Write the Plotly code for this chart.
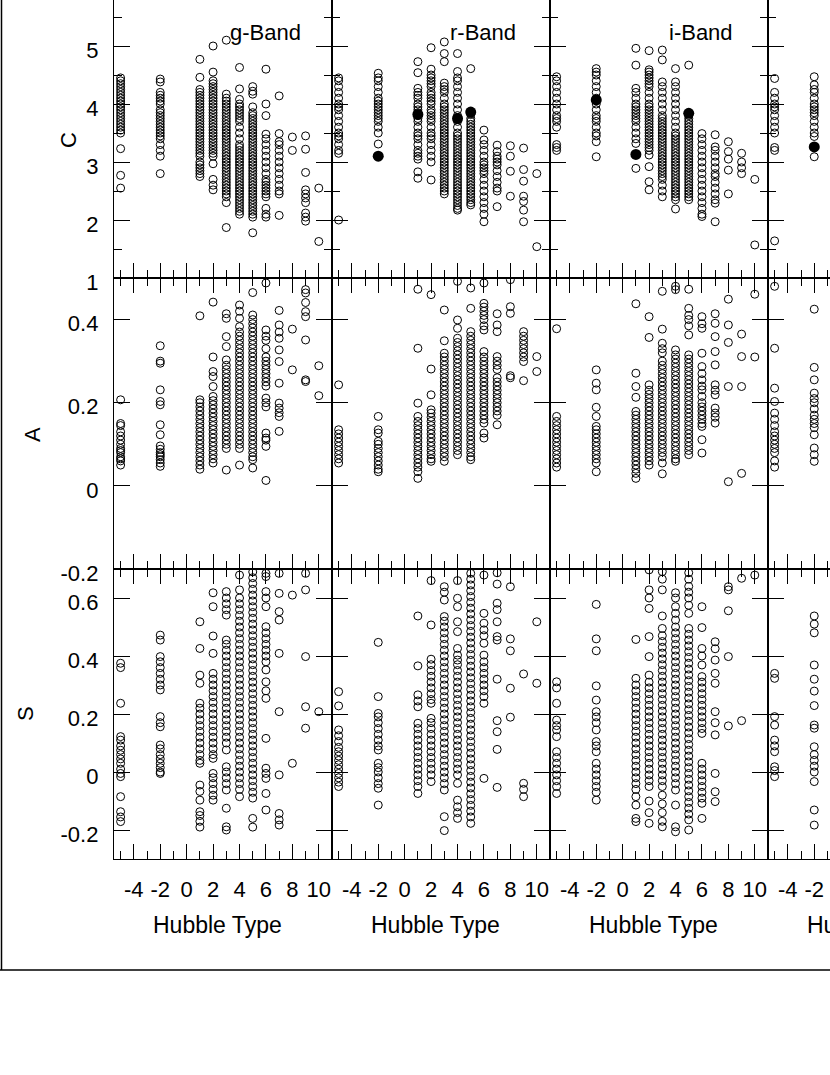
import plotly.graph_objects as go

# Hubble types present in the sample (E=-5, S0=-2, spirals 1..10)
types = [-5, -2, 1, 2, 3, 4, 5, 6, 7, 8, 9, 10]
types_z = [-5, -2]   # only these are visible in the clipped 4th column

band_names = ['g-Band', 'r-Band', 'i-Band']

# ---- concentration C, one list per Hubble type ----
g_C = [
    [4.45, 4.4, 4.35, 4.3, 4.25, 4.2, 4.15, 4.1, 4.05, 4.0, 3.95, 3.9, 3.85, 3.8, 3.75, 3.7, 3.65, 3.6, 3.55, 3.5, 3.23, 2.77, 2.55],
    [4.43, 4.38, 4.2, 4.15, 4.1, 4.05, 4.0, 3.9, 3.85, 3.8, 3.75, 3.7, 3.65, 3.6, 3.55, 3.5, 3.45, 3.4, 3.3, 3.2, 3.1, 2.8],
    [4.77, 4.46, 4.25, 4.2, 4.15, 4.1, 4.05, 4.0, 3.95, 3.9, 3.85, 3.8, 3.75, 3.7, 3.65, 3.6, 3.55, 3.5, 3.45, 3.4, 3.35, 3.3, 3.25, 3.2, 3.15, 3.1, 3.0, 2.95, 2.9, 2.85, 2.8, 2.75],
    [5.0, 4.55, 4.4, 4.35, 4.3, 4.25, 4.2, 4.15, 4.1, 4.05, 4.0, 3.95, 3.9, 3.85, 3.8, 3.75, 3.7, 3.65, 3.6, 3.55, 3.5, 3.45, 3.4, 3.35, 3.3, 3.25, 3.2, 3.15, 3.1, 2.97, 2.7, 2.6, 2.52],
    [5.1, 4.17, 4.1, 4.05, 4.0, 3.95, 3.9, 3.85, 3.8, 3.75, 3.7, 3.65, 3.6, 3.55, 3.5, 3.45, 3.4, 3.35, 3.3, 3.25, 3.2, 3.15, 3.1, 3.05, 3.0, 2.95, 2.9, 2.85, 2.8, 2.75, 2.7, 2.65, 2.6, 2.55, 2.5, 2.45, 2.4, 2.3, 1.87],
    [4.63, 4.26, 4.08, 4.0, 3.95, 3.9, 3.85, 3.8, 3.75, 3.7, 3.6, 3.5, 3.4, 3.3, 3.25, 3.2, 3.15, 3.1, 3.05, 3.0, 2.95, 2.9, 2.85, 2.8, 2.75, 2.7, 2.65, 2.6, 2.55, 2.5, 2.45, 2.4, 2.35, 2.3, 2.25, 2.2, 2.15, 2.1],
    [4.3, 4.22, 4.17, 3.95, 3.85, 3.8, 3.75, 3.7, 3.65, 3.6, 3.55, 3.5, 3.45, 3.4, 3.35, 3.3, 3.25, 3.2, 3.15, 3.1, 3.05, 3.0, 2.95, 2.9, 2.85, 2.8, 2.75, 2.7, 2.65, 2.6, 2.55, 2.5, 2.45, 2.4, 2.35, 2.3, 2.25, 2.2, 2.15, 2.1, 2.05, 1.78],
    [4.6, 4.0, 3.8, 3.48, 3.4, 3.3, 3.2, 3.1, 3.0, 2.9, 2.8, 2.7, 2.65, 2.6, 2.55, 2.5, 2.45, 2.4, 2.2, 2.1, 2.05],
    [4.14, 3.49, 3.35, 3.3, 3.2, 3.1, 3.0, 2.9, 2.8, 2.7, 2.6, 2.5, 2.45, 2.08],
    [3.43, 3.2],
    [3.45, 3.22, 2.82, 2.52, 2.45, 2.38, 2.3, 2.12, 2.05, 1.98],
    [2.55, 1.63],
]
r_C = [
    [4.45, 4.4, 4.3, 4.2, 4.1, 4.0, 3.95, 3.9, 3.8, 3.7, 3.6, 3.5, 3.45, 3.4, 3.3, 3.2, 3.15, 2.0],
    [4.53, 4.45, 4.4, 4.3, 4.2, 4.1, 4.05, 4.0, 3.95, 3.9, 3.85, 3.8, 3.75, 3.7, 3.6, 3.5, 3.31],
    [4.73, 4.54, 4.27, 4.2, 4.15, 4.1, 4.0, 3.95, 3.9, 3.85, 3.8, 3.75, 3.7, 3.6, 3.5, 3.45, 3.4, 3.3, 3.2, 3.15, 3.1, 3.05, 2.83, 2.72],
    [4.97, 4.6, 4.5, 4.45, 4.4, 4.35, 4.3, 4.2, 4.15, 4.1, 4.05, 4.0, 3.9, 3.85, 3.8, 3.75, 3.7, 3.6, 3.5, 3.45, 3.4, 3.3, 3.2, 3.1, 3.0, 2.69],
    [5.07, 4.87, 4.73, 4.36, 4.3, 4.25, 4.2, 4.1, 4.0, 3.95, 3.9, 3.85, 3.8, 3.75, 3.7, 3.65, 3.6, 3.55, 3.5, 3.45, 3.4, 3.35, 3.3, 3.25, 3.2, 3.15, 3.1, 3.05, 3.0, 2.95, 2.9, 2.85, 2.8, 2.75, 2.7, 2.65, 2.6, 2.55, 2.5, 2.45],
    [4.87, 4.56, 4.45, 4.4, 4.3, 4.2, 4.1, 4.0, 3.9, 3.8, 3.7, 3.6, 3.5, 3.45, 3.4, 3.35, 3.3, 3.25, 3.2, 3.15, 3.1, 3.05, 3.0, 2.95, 2.9, 2.85, 2.8, 2.75, 2.7, 2.65, 2.6, 2.55, 2.5, 2.45, 2.4, 2.35, 2.3, 2.25, 2.2, 2.17],
    [4.61, 3.82, 3.75, 3.7, 3.65, 3.6, 3.55, 3.5, 3.45, 3.4, 3.35, 3.3, 3.25, 3.2, 3.15, 3.1, 3.05, 3.0, 2.95, 2.9, 2.85, 2.8, 2.75, 2.7, 2.65, 2.6, 2.55, 2.5, 2.45, 2.4, 2.35, 2.3, 2.26],
    [3.55, 3.38, 3.3, 3.2, 3.1, 3.0, 2.95, 2.9, 2.85, 2.8, 2.7, 2.6, 2.5, 2.4, 2.3, 2.2, 2.1, 1.97],
    [3.29, 3.18, 3.1, 3.05, 3.0, 2.95, 2.85, 2.75, 2.65, 2.55, 2.5, 2.23],
    [3.28, 3.1, 2.84, 2.41],
    [3.24, 2.87, 2.67, 2.41, 2.32, 2.17, 1.97],
    [2.8, 1.54],
]
i_C = [
    [4.47, 4.4, 4.3, 4.2, 4.1, 4.0, 3.9, 3.8, 3.75, 3.7, 3.6, 3.3, 3.25, 3.2],
    [4.61, 4.55, 4.5, 4.4, 4.3, 4.2, 4.1, 4.0, 3.9, 3.8, 3.75, 3.7, 3.6, 3.5, 3.45, 3.35, 3.09],
    [4.96, 4.67, 4.27, 4.2, 4.1, 4.0, 3.95, 3.9, 3.85, 3.8, 3.75, 3.7, 3.6, 3.5, 3.4, 3.32, 2.89],
    [4.92, 4.59, 4.55, 4.5, 4.45, 4.4, 4.35, 4.3, 4.2, 4.1, 4.0, 3.95, 3.9, 3.85, 3.8, 3.75, 3.7, 3.65, 3.6, 3.55, 3.5, 3.45, 3.4, 3.35, 3.3, 3.25, 3.2, 3.12, 2.92, 2.66, 2.52],
    [4.93, 4.76, 4.38, 4.3, 4.2, 4.1, 4.0, 3.9, 3.8, 3.75, 3.7, 3.65, 3.6, 3.55, 3.5, 3.45, 3.4, 3.35, 3.3, 3.25, 3.2, 3.15, 3.1, 3.05, 3.0, 2.95, 2.9, 2.85, 2.8, 2.75, 2.7, 2.6, 2.5, 2.4],
    [4.61, 4.38, 4.3, 4.2, 4.1, 4.0, 3.9, 3.8, 3.7, 3.6, 3.5, 3.45, 3.4, 3.35, 3.3, 3.25, 3.2, 3.15, 3.1, 3.05, 3.0, 2.95, 2.9, 2.85, 2.8, 2.75, 2.7, 2.65, 2.6, 2.55, 2.5, 2.45, 2.4, 2.35, 2.19],
    [4.67, 3.8, 3.75, 3.7, 3.65, 3.6, 3.55, 3.5, 3.45, 3.4, 3.35, 3.3, 3.25, 3.2, 3.15, 3.1, 3.05, 3.0, 2.95, 2.9, 2.85, 2.8, 2.75, 2.7, 2.65, 2.6, 2.55, 2.5, 2.45, 2.4, 2.35],
    [3.49, 3.4, 3.3, 3.2, 3.1, 3.0, 2.9, 2.8, 2.7, 2.6, 2.5, 2.4, 2.3, 2.2, 2.1, 2.06],
    [3.47, 3.26, 3.2, 3.1, 3.0, 2.9, 2.8, 2.75, 2.65, 2.55, 2.45, 2.35, 2.29, 1.97],
    [3.35, 3.18, 3.05, 2.86, 2.45],
    [3.15, 3.0, 2.9, 2.8],
    [2.7, 1.57],
]
z_C = [
    [4.44, 4.2, 4.1, 4.0, 3.95, 3.9, 3.8, 3.7, 3.6, 3.5, 3.25, 3.2, 1.64],
    [4.47, 4.33, 4.25, 4.2, 4.1, 4.0, 3.95, 3.9, 3.85, 3.8, 3.7, 3.6, 3.5, 3.44, 3.09],
]

# filled symbols in the C row
r_dot_t = [-2, 1, 4, 5]
r_dot_C = [3.1, 3.82, 3.75, 3.86]
i_dot_t = [-2, 1, 5]
i_dot_C = [4.07, 3.13, 3.84]
z_dot_t = [-2]
z_dot_C = [3.26]

# ---- asymmetry A ----
g_A = [
    [0.207, 0.15, 0.145, 0.13, 0.12, 0.11, 0.1, 0.09, 0.085, 0.08, 0.07, 0.065, 0.06, 0.05],
    [0.337, 0.3, 0.295, 0.231, 0.203, 0.195, 0.147, 0.123, 0.096, 0.088, 0.08, 0.075, 0.07, 0.063, 0.055, 0.047],
    [0.409, 0.207, 0.2, 0.19, 0.18, 0.17, 0.16, 0.15, 0.14, 0.13, 0.12, 0.11, 0.1, 0.09, 0.08, 0.07, 0.06, 0.05, 0.04],
    [0.442, 0.31, 0.275, 0.263, 0.239, 0.215, 0.205, 0.195, 0.185, 0.175, 0.165, 0.155, 0.145, 0.135, 0.125, 0.115, 0.105, 0.095, 0.085, 0.075, 0.065, 0.055],
    [0.414, 0.403, 0.359, 0.335, 0.303, 0.29, 0.28, 0.27, 0.26, 0.25, 0.24, 0.23, 0.22, 0.21, 0.2, 0.19, 0.18, 0.17, 0.16, 0.15, 0.14, 0.13, 0.12, 0.11, 0.1, 0.09, 0.038],
    [0.435, 0.42, 0.403, 0.383, 0.37, 0.36, 0.35, 0.34, 0.33, 0.32, 0.31, 0.3, 0.29, 0.28, 0.27, 0.26, 0.25, 0.24, 0.23, 0.22, 0.21, 0.2, 0.19, 0.18, 0.17, 0.16, 0.15, 0.14, 0.13, 0.12, 0.11, 0.1, 0.09, 0.05],
    [0.465, 0.411, 0.4, 0.39, 0.38, 0.37, 0.36, 0.35, 0.34, 0.33, 0.32, 0.31, 0.3, 0.29, 0.28, 0.27, 0.26, 0.25, 0.24, 0.23, 0.22, 0.21, 0.2, 0.19, 0.18, 0.17, 0.16, 0.15, 0.14, 0.13, 0.12, 0.11, 0.1, 0.09, 0.08, 0.07, 0.063, 0.043],
    [0.488, 0.375, 0.36, 0.35, 0.33, 0.31, 0.3, 0.29, 0.28, 0.27, 0.26, 0.25, 0.24, 0.211, 0.2, 0.19, 0.127, 0.115, 0.11, 0.095, 0.013],
    [0.422, 0.387, 0.37, 0.355, 0.327, 0.299, 0.247, 0.199, 0.187, 0.176, 0.167, 0.131],
    [0.377, 0.279],
    [0.472, 0.464, 0.441, 0.419, 0.407, 0.351, 0.255, 0.251],
    [0.289, 0.217],
]
r_A = [
    [0.243, 0.135, 0.125, 0.115, 0.105, 0.095, 0.085, 0.075, 0.065, 0.055],
    [0.167, 0.135, 0.127, 0.107, 0.1, 0.09, 0.08, 0.07, 0.06, 0.05, 0.04, 0.034],
    [0.473, 0.331, 0.199, 0.167, 0.155, 0.145, 0.135, 0.125, 0.115, 0.105, 0.095, 0.085, 0.075, 0.065, 0.055, 0.045, 0.034, 0.018],
    [0.46, 0.281, 0.219, 0.183, 0.175, 0.165, 0.155, 0.145, 0.135, 0.125, 0.115, 0.105, 0.095, 0.085, 0.075, 0.065, 0.059],
    [0.423, 0.349, 0.319, 0.31, 0.3, 0.29, 0.28, 0.27, 0.26, 0.25, 0.24, 0.23, 0.22, 0.21, 0.2, 0.19, 0.18, 0.17, 0.16, 0.15, 0.14, 0.13, 0.12, 0.11, 0.1, 0.09, 0.08, 0.07, 0.059],
    [0.492, 0.399, 0.379, 0.355, 0.345, 0.335, 0.325, 0.315, 0.305, 0.295, 0.285, 0.275, 0.265, 0.255, 0.245, 0.235, 0.225, 0.215, 0.205, 0.195, 0.185, 0.175, 0.165, 0.155, 0.145, 0.135, 0.125, 0.115, 0.105, 0.095, 0.085, 0.075],
    [0.476, 0.427, 0.371, 0.36, 0.35, 0.34, 0.33, 0.32, 0.31, 0.3, 0.29, 0.28, 0.27, 0.26, 0.25, 0.24, 0.23, 0.22, 0.21, 0.2, 0.19, 0.18, 0.17, 0.16, 0.15, 0.14, 0.13, 0.12, 0.11, 0.1, 0.09, 0.08, 0.07, 0.063],
    [0.488, 0.439, 0.43, 0.42, 0.41, 0.4, 0.385, 0.375, 0.323, 0.31, 0.3, 0.29, 0.28, 0.27, 0.26, 0.25, 0.24, 0.23, 0.22, 0.21, 0.2, 0.19, 0.18, 0.17, 0.16, 0.151, 0.127, 0.115],
    [0.414, 0.387, 0.371, 0.311, 0.3, 0.29, 0.28, 0.26, 0.25, 0.24, 0.23, 0.22, 0.21, 0.2, 0.19, 0.18, 0.17, 0.147],
    [0.496, 0.431, 0.415, 0.265, 0.26],
    [0.371, 0.36, 0.35, 0.34, 0.33, 0.32, 0.31, 0.299, 0.253],
    [0.311, 0.275],
]
i_A = [
    [0.378, 0.167, 0.155, 0.145, 0.135, 0.125, 0.115, 0.105, 0.095, 0.085, 0.075, 0.065, 0.055, 0.045],
    [0.279, 0.247, 0.231, 0.189, 0.167, 0.143, 0.135, 0.125, 0.115, 0.105, 0.095, 0.085, 0.075, 0.065, 0.055, 0.034],
    [0.438, 0.271, 0.239, 0.213, 0.179, 0.17, 0.16, 0.15, 0.14, 0.13, 0.12, 0.11, 0.1, 0.09, 0.08, 0.07, 0.06, 0.05, 0.04, 0.03, 0.018],
    [0.407, 0.357, 0.243, 0.23, 0.22, 0.21, 0.2, 0.19, 0.18, 0.17, 0.16, 0.15, 0.14, 0.13, 0.12, 0.11, 0.1, 0.09, 0.08, 0.07, 0.06, 0.05],
    [0.468, 0.377, 0.343, 0.33, 0.32, 0.3, 0.29, 0.28, 0.27, 0.26, 0.25, 0.24, 0.23, 0.22, 0.21, 0.2, 0.19, 0.18, 0.17, 0.16, 0.15, 0.14, 0.13, 0.12, 0.11, 0.1, 0.09, 0.08, 0.07, 0.055, 0.029],
    [0.48, 0.472, 0.327, 0.315, 0.305, 0.295, 0.285, 0.275, 0.265, 0.255, 0.245, 0.235, 0.225, 0.215, 0.205, 0.195, 0.185, 0.175, 0.165, 0.155, 0.145, 0.135, 0.125, 0.115, 0.105, 0.095, 0.085, 0.075, 0.065, 0.059],
    [0.473, 0.427, 0.41, 0.4, 0.385, 0.363, 0.315, 0.305, 0.295, 0.285, 0.275, 0.265, 0.255, 0.245, 0.235, 0.225, 0.215, 0.205, 0.195, 0.185, 0.175, 0.165, 0.155, 0.145, 0.135, 0.125, 0.115, 0.105, 0.095, 0.085, 0.075],
    [0.407, 0.39, 0.379, 0.319, 0.287, 0.27, 0.255, 0.24, 0.231, 0.215, 0.2, 0.19, 0.18, 0.17, 0.16, 0.15, 0.143, 0.111, 0.079],
    [0.414, 0.391, 0.359, 0.323, 0.291, 0.243, 0.23, 0.219, 0.187, 0.175, 0.165, 0.151],
    [0.449, 0.387, 0.345, 0.239, 0.01],
    [0.365, 0.311, 0.239, 0.03],
    [0.461, 0.31],
]
z_A = [
    [0.48, 0.331, 0.235, 0.203, 0.175, 0.16, 0.145, 0.13, 0.12, 0.11, 0.1, 0.09, 0.08, 0.06, 0.045],
    [0.425, 0.285, 0.255, 0.223, 0.21, 0.2, 0.185, 0.17, 0.16, 0.15, 0.14, 0.123, 0.091, 0.075, 0.059],
]

# ---- clumpiness S ----
g_S = [
    [0.375, 0.36, 0.237, 0.122, 0.11, 0.09, 0.075, 0.06, 0.045, 0.03, 0.01, -0.005, -0.016, -0.085, -0.137, -0.155, -0.171],
    [0.472, 0.455, 0.398, 0.38, 0.36, 0.34, 0.32, 0.3, 0.283, 0.191, 0.17, 0.156, 0.093, 0.08, 0.06, 0.045, 0.03, 0.015, 0.0, -0.005],
    [0.518, 0.426, 0.334, 0.306, 0.237, 0.22, 0.2, 0.18, 0.16, 0.14, 0.12, 0.1, 0.08, 0.06, 0.04, 0.03, -0.045, -0.067, -0.097, -0.137, -0.15, -0.17, -0.19],
    [0.618, 0.57, 0.469, 0.409, 0.34, 0.32, 0.3, 0.28, 0.26, 0.24, 0.22, 0.2, 0.18, 0.16, 0.14, 0.12, 0.1, 0.08, 0.06, 0.047, -0.005, -0.02, -0.04, -0.06, -0.08, -0.097],
    [0.622, 0.6, 0.58, 0.56, 0.541, 0.455, 0.44, 0.42, 0.4, 0.38, 0.36, 0.34, 0.32, 0.3, 0.28, 0.26, 0.24, 0.22, 0.2, 0.18, 0.16, 0.14, 0.12, 0.1, 0.076, 0.018, 0.0, -0.02, -0.04, -0.062, -0.125, -0.189, -0.2],
    [0.679, 0.628, 0.6, 0.58, 0.56, 0.54, 0.52, 0.5, 0.48, 0.46, 0.44, 0.42, 0.4, 0.38, 0.36, 0.34, 0.32, 0.3, 0.28, 0.26, 0.24, 0.22, 0.2, 0.18, 0.16, 0.14, 0.12, 0.1, 0.08, 0.06, 0.04, 0.02, 0.0, -0.02, -0.04, -0.06, -0.085],
    [0.69, 0.67, 0.65, 0.63, 0.61, 0.59, 0.57, 0.55, 0.53, 0.51, 0.49, 0.47, 0.45, 0.43, 0.41, 0.39, 0.37, 0.35, 0.33, 0.31, 0.29, 0.27, 0.25, 0.23, 0.21, 0.19, 0.17, 0.15, 0.13, 0.11, 0.09, 0.07, 0.05, 0.03, 0.01, -0.01, -0.03, -0.05, -0.07, -0.09, -0.16, -0.19],
    [0.685, 0.674, 0.622, 0.6, 0.57, 0.501, 0.48, 0.46, 0.44, 0.42, 0.4, 0.38, 0.352, 0.311, 0.28, 0.254, 0.116, 0.013, -0.005, -0.022, -0.074, -0.131],
    [0.685, 0.616, 0.553, 0.524, 0.409, 0.208, -0.01, -0.143, -0.165, -0.183],
    [0.61, 0.03],
    [0.685, 0.628, 0.398, 0.225, 0.151],
    [0.208],
]
r_S = [
    [0.277, 0.228, 0.145, 0.125, 0.105, 0.085, 0.07, 0.055, 0.04, 0.025, 0.01, -0.005, -0.02, -0.035, -0.05],
    [0.447, 0.26, 0.202, 0.19, 0.17, 0.15, 0.13, 0.11, 0.09, 0.076, 0.03, 0.015, 0.0, -0.02, -0.04, -0.056, -0.114],
    [0.538, 0.366, 0.266, 0.245, 0.225, 0.168, 0.15, 0.13, 0.11, 0.09, 0.07, 0.05, 0.03, 0.01, -0.01, -0.03, -0.05, -0.074],
    [0.66, 0.507, 0.389, 0.37, 0.35, 0.33, 0.31, 0.29, 0.27, 0.25, 0.237, 0.185, 0.17, 0.15, 0.13, 0.11, 0.09, 0.07, 0.05, 0.03, 0.01, -0.01, -0.033],
    [0.639, 0.62, 0.593, 0.536, 0.52, 0.5, 0.48, 0.46, 0.44, 0.42, 0.4, 0.38, 0.36, 0.34, 0.32, 0.3, 0.28, 0.26, 0.24, 0.22, 0.2, 0.18, 0.16, 0.14, 0.12, 0.1, 0.08, 0.06, 0.04, 0.02, 0.0, -0.02, -0.04, -0.062, -0.154, -0.202],
    [0.66, 0.599, 0.57, 0.518, 0.484, 0.426, 0.403, 0.386, 0.37, 0.35, 0.33, 0.31, 0.29, 0.27, 0.25, 0.23, 0.21, 0.19, 0.17, 0.15, 0.13, 0.11, 0.09, 0.07, 0.05, 0.03, 0.01, -0.01, -0.039, -0.097, -0.12, -0.14, -0.16],
    [0.685, 0.665, 0.645, 0.625, 0.605, 0.585, 0.565, 0.545, 0.525, 0.505, 0.485, 0.465, 0.445, 0.425, 0.405, 0.385, 0.365, 0.345, 0.325, 0.305, 0.285, 0.265, 0.245, 0.225, 0.205, 0.185, 0.165, 0.145, 0.125, 0.105, 0.085, 0.065, 0.045, 0.025, 0.005, -0.015, -0.035, -0.055, -0.075, -0.095, -0.115, -0.135, -0.155, -0.177],
    [0.679, 0.547, 0.513, 0.49, 0.47, 0.444, 0.403, 0.38, 0.36, 0.34, 0.32, 0.3, 0.28, 0.26, 0.237, -0.022],
    [0.687, 0.648, 0.582, 0.56, 0.518, 0.467, 0.455, 0.32, 0.177, 0.139, 0.078, -0.053],
    [0.639, 0.459, 0.418, 0.289, 0.189],
    [0.338, -0.039, -0.06, -0.085],
    [0.518, 0.306],
]
i_S = [
    [0.311, 0.29, 0.237, 0.179, 0.16, 0.145, 0.122, 0.07, 0.05, 0.03, 0.01, -0.01, -0.03, -0.05, -0.074],
    [0.578, 0.459, 0.418, 0.297, 0.248, 0.208, 0.19, 0.17, 0.145, 0.105, 0.09, 0.07, 0.03, 0.01, -0.01, -0.03, -0.05, -0.07, -0.097],
    [0.457, 0.323, 0.3, 0.28, 0.26, 0.24, 0.22, 0.2, 0.18, 0.16, 0.14, 0.12, 0.1, 0.08, 0.06, 0.04, 0.02, 0.0, -0.02, -0.04, -0.06, -0.085, -0.114, -0.16, -0.171],
    [0.697, 0.628, 0.6, 0.564, 0.467, 0.398, 0.334, 0.31, 0.29, 0.27, 0.25, 0.23, 0.21, 0.19, 0.17, 0.15, 0.13, 0.11, 0.09, 0.07, 0.05, 0.03, 0.01, -0.01, -0.03, -0.05, -0.1, -0.14, -0.177],
    [0.691, 0.665, 0.628, 0.538, 0.495, 0.47, 0.45, 0.43, 0.41, 0.39, 0.37, 0.35, 0.33, 0.31, 0.29, 0.27, 0.25, 0.23, 0.21, 0.19, 0.17, 0.15, 0.13, 0.11, 0.09, 0.07, 0.05, 0.03, 0.01, -0.01, -0.03, -0.05, -0.08, -0.11, -0.14, -0.17, -0.189],
    [0.618, 0.6, 0.57, 0.547, 0.524, 0.5, 0.48, 0.46, 0.44, 0.42, 0.4, 0.38, 0.36, 0.34, 0.32, 0.3, 0.28, 0.26, 0.24, 0.22, 0.2, 0.18, 0.16, 0.14, 0.12, 0.1, 0.08, 0.06, 0.04, 0.02, 0.0, -0.02, -0.04, -0.062, -0.114, -0.189, -0.206],
    [0.687, 0.665, 0.64, 0.62, 0.6, 0.575, 0.547, 0.495, 0.475, 0.455, 0.435, 0.415, 0.395, 0.375, 0.355, 0.335, 0.315, 0.295, 0.275, 0.255, 0.235, 0.215, 0.195, 0.175, 0.155, 0.135, 0.115, 0.095, 0.075, 0.055, 0.035, 0.015, -0.005, -0.025, -0.045, -0.065, -0.085, -0.105, -0.125, -0.145, -0.165, -0.2],
    [0.57, 0.498, 0.426, 0.4, 0.369, 0.329, 0.31, 0.29, 0.27, 0.25, 0.23, 0.21, 0.19, 0.17, 0.15, 0.133, 0.03, 0.01, -0.01, -0.03, -0.05, -0.07, -0.09, -0.108, -0.16],
    [0.449, 0.425, 0.386, 0.34, 0.306, 0.208, 0.17, 0.128, -0.005, -0.068, -0.102],
    [0.639, 0.628, 0.556, 0.398, 0.159],
    [0.668, 0.177],
    [0.679],
]
z_S = [
    [0.34, 0.323, 0.191, 0.162, 0.11, 0.09, 0.07, 0.018, 0.005, -0.016],
    [0.538, 0.51, 0.48, 0.369, 0.32, 0.279, 0.229, 0.162, 0.151, 0.087, 0.06, 0.04, 0.02, 0.0, -0.033, -0.131, -0.183],
]

x_tickvals = [-4, -2, 0, 2, 4, 6, 8, 10]
x_ticktext = ['-4', '-2', '0', '2', '4', '6', '8', '10']
C_tickvals = [1, 2, 3, 4, 5]
A_tickvals = [-0.2, 0, 0.2, 0.4]
S_tickvals = [-0.2, 0, 0.2, 0.4, 0.6]

# ---- page geometry (pixels) ----
W, H = 830, 1075
col_px = [(114, 332), (332, 550), (550, 768), (768, 830)]
row_px = [(0, 278), (278, 569), (569, 859)]
px_per_type = 218 / 16.5
x_range = [-5.5, 11]
x_range_z = [-5.5, -5.5 + 62 / px_per_type]
y_ranges = [[1, 1 + 278 / 58], [-0.2, 0.5], [-0.3, 0.7]]
y_ticks = [
    (C_tickvals, [str(v) for v in C_tickvals], 0.5),
    (A_tickvals, ['-0.2', '0', '0.2', '0.4'], None),
    (S_tickvals, ['-0.2', '0', '0.2', '0.4', '0.6'], None),
]

panels = [
    [g_C, r_C, i_C, z_C],
    [g_A, r_A, i_A, z_A],
    [g_S, r_S, i_S, z_S],
]
dots = [(r_dot_t, r_dot_C, 1), (i_dot_t, i_dot_C, 2), (z_dot_t, z_dot_C, 3)]

FONT = 'Liberation Sans, Arial, sans-serif'
fig = go.Figure()
layout = {}

for r in range(3):
    for c in range(4):
        n = r * 4 + c + 1
        sfx = '' if n == 1 else str(n)
        tl = types if c < 3 else types_z
        data = panels[r][c]
        xs = [t for t, vals in zip(tl, data) for v in vals]
        ys = [v for t, vals in zip(tl, data) for v in vals]
        fig.add_trace(go.Scatter(
            x=xs, y=ys, mode='markers', xaxis='x' + sfx, yaxis='y' + sfx,
            marker=dict(symbol='circle-open', size=8, color='black',
                        line=dict(width=1, color='black')),
            hoverinfo='skip'))

        x0, x1 = col_px[c]
        y0, y1 = row_px[r]
        layout['xaxis' + sfx] = dict(
            domain=[x0 / W, x1 / W], anchor='y' + sfx,
            range=x_range if c < 3 else x_range_z,
            automargin=False, showgrid=False, zeroline=False,
            showline=True, linecolor='black', linewidth=1.3,
            mirror='ticks' if r > 0 else False,
            ticks='inside', ticklen=15, tickwidth=1, tickcolor='black',
            tickmode='array', tickvals=x_tickvals, ticktext=x_ticktext,
            minor=dict(ticks='inside', dtick=1, tick0=0, ticklen=8,
                       tickwidth=1, tickcolor='black'),
            showticklabels=(r == 2), ticklabelstandoff=10,
            tickfont=dict(family=FONT, size=22, color='black'))
        tv, tt, mdt = y_ticks[r]
        yax = dict(
            domain=[1 - y1 / H, 1 - y0 / H], anchor='x' + sfx,
            range=y_ranges[r],
            automargin=False, showgrid=False, zeroline=False,
            showline=True, linecolor='black', linewidth=1.3,
            mirror='ticks' if c < 3 else False,
            ticks='inside', ticklen=16, tickwidth=1, tickcolor='black',
            tickmode='array', tickvals=tv, ticktext=tt,
            showticklabels=(c == 0), ticklabelstandoff=10, ticklabelshift=4,
            tickfont=dict(family=FONT, size=22, color='black'))
        if mdt:
            yax['minor'] = dict(ticks='inside', dtick=mdt, tick0=0, ticklen=8,
                                tickwidth=1, tickcolor='black')
        layout['yaxis' + sfx] = yax

for dt, dv, c in dots:
    sfx = '' if c == 0 else str(c + 1)
    fig.add_trace(go.Scatter(
        x=dt, y=dv, mode='markers', xaxis='x' + sfx, yaxis='y' + sfx,
        marker=dict(symbol='circle', size=11, color='black'),
        hoverinfo='skip'))

annotations = []
for c, name in enumerate(band_names):
    annotations.append(dict(
        text=name, xref='paper', yref='paper',
        x=(col_px[c][0] + 151) / W, y=1 - 33 / H,
        xanchor='center', yanchor='middle',
        showarrow=False, font=dict(family=FONT, size=22, color='black')))
for c in range(4):
    annotations.append(dict(
        text='Hubble Type', xref='paper', yref='paper',
        x=(col_px[c][0] + 103) / W, y=1 - 925 / H,
        xanchor='center', yanchor='middle',
        showarrow=False, font=dict(family=FONT, size=23, color='black')))
for label, xp, yp in [('C', 68, 140), ('A', 32, 435), ('S', 25, 714)]:
    annotations.append(dict(
        text=label, xref='paper', yref='paper', x=xp / W, y=1 - yp / H,
        xanchor='center', yanchor='middle',
        textangle=-90, showarrow=False,
        font=dict(family=FONT, size=22, color='black')))

# outer frame of the original page (left and bottom edges visible)
shapes = [
    dict(type='line', xref='paper', yref='paper', x0=1.5 / W, x1=1.5 / W,
         y0=1 - 970 / H, y1=1, line=dict(color='black', width=1.5)),
    dict(type='line', xref='paper', yref='paper', x0=0, x1=1,
         y0=1 - 970 / H, y1=1 - 970 / H, line=dict(color='black', width=1.5)),
]

fig.update_layout(
    width=W, height=H, autosize=False,
    margin=dict(l=0, r=0, t=0, b=0, autoexpand=False),
    paper_bgcolor='white', plot_bgcolor='white',
    showlegend=False, annotations=annotations, shapes=shapes,
    font=dict(family=FONT, size=22, color='black'),
    **layout)

# no browser margin around the figure
fig.write_html("out.html", config={'displayModeBar': False},
               post_script="document.body.style.margin='0';")
